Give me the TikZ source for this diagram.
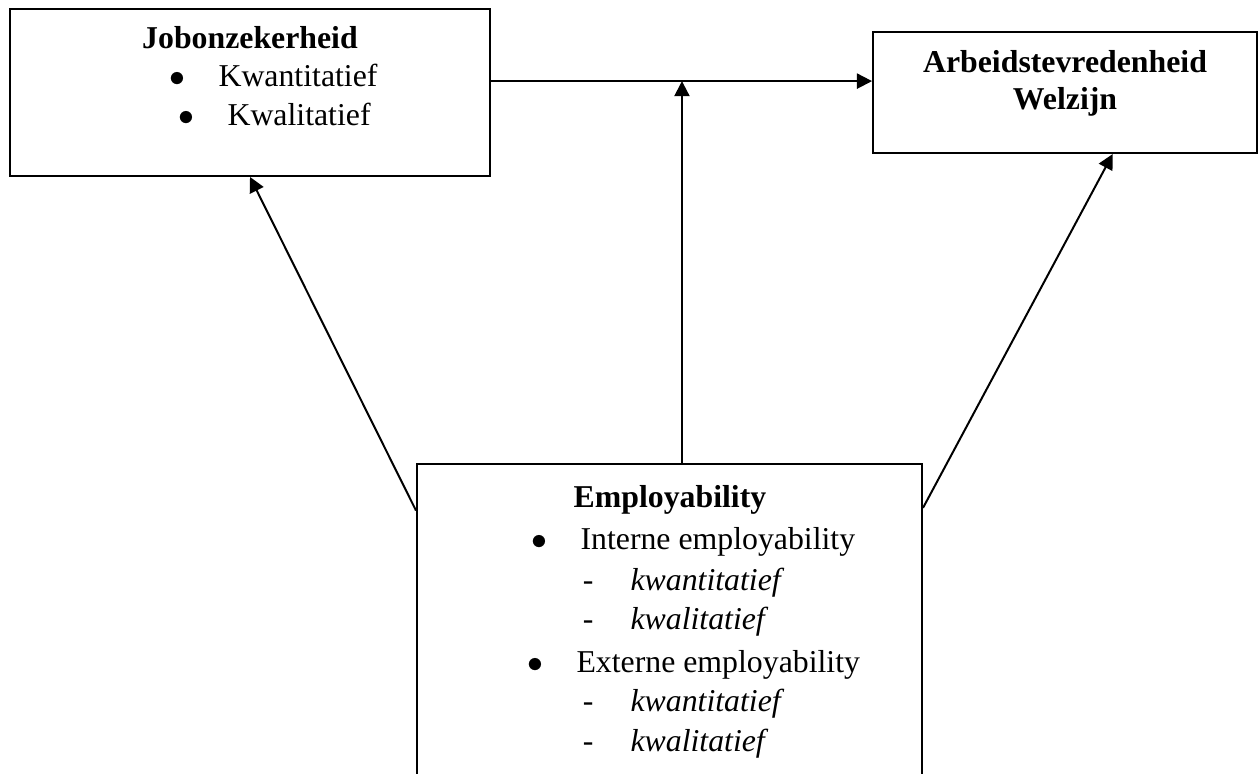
\documentclass[tikz,border=0pt]{standalone}
\usepackage{fontspec}
\setmainfont{Liberation Serif}
\usetikzlibrary{arrows.meta}

\newcommand\bulitem[1]{\makebox[18.5pt][l]{$\bullet$}#1}
\newcommand\dashitem[1]{\makebox[18pt][l]{-}\textit{#1}}

\begin{document}
\begin{tikzpicture}[
  x=0.3774pt, y=-0.3774pt,
  every node/.style={font=\fontsize{12}{14}\selectfont},
  box/.style={draw, line width=0.75pt, inner sep=0pt},
  txt/.style={inner sep=0pt, anchor=base west},
  title/.style={inner sep=0pt, anchor=base, font=\fontsize{12}{14}\selectfont\bfseries},
  arr/.style={draw, line width=0.75pt, -{Triangle[length=5.7pt,width=5.7pt]}}
]
\useasboundingbox (0,0) rectangle (1260,774);
\clip (0,0) rectangle (1260,774);

\node[box, minimum width=181.1pt, minimum height=63pt] (job) at (250,92.5) {};
\node[box, minimum width=144.9pt, minimum height=45.7pt] (arb) at (1065,92.5) {};
\node[box, minimum width=190.6pt, minimum height=136pt] (emp) at (669.5,644) {};

\node[title] (jobT) at (250,48.5) {Jobonzekerheid};
\node[txt] (jobA) at (169,87) {\bulitem{Kwantitatief}};
\node[txt] (jobB) at (178,126) {\bulitem{Kwalitatief}};

\node[title] (arbT) at (1065,73) {Arbeidstevredenheid};
\node[title] (arbW) at (1065,110) {Welzijn};

\node[title] (empT) at (670,507) {Employability};
\node[txt] (empA) at (531,549) {\bulitem{Interne employability}};
\node[txt] (empA1) at (582.3,590) {\dashitem{kwantitatief}};
\node[txt] (empA2) at (582.3,629) {\dashitem{kwalitatief}};
\node[txt] (empB) at (527,672) {\bulitem{Externe employability}};
\node[txt] (empB1) at (582.3,711) {\dashitem{kwantitatief}};
\node[txt] (empB2) at (582.3,751) {\dashitem{kwalitatief}};

\path ([yshift=4.3pt]job.east) coordinate (hz)
      ([xshift=4.7pt]emp.north) coordinate (empN);
\draw[arr] (hz) -- (hz -| arb.west);
\draw[arr] (empN) -- (empN |- hz);
\draw[arr] ([yshift=-18pt]emp.north west) -- (job.south);
\draw[arr] ([yshift=-17pt]emp.north east) -- ([xshift=18pt]arb.south);
\end{tikzpicture}
\end{document}
